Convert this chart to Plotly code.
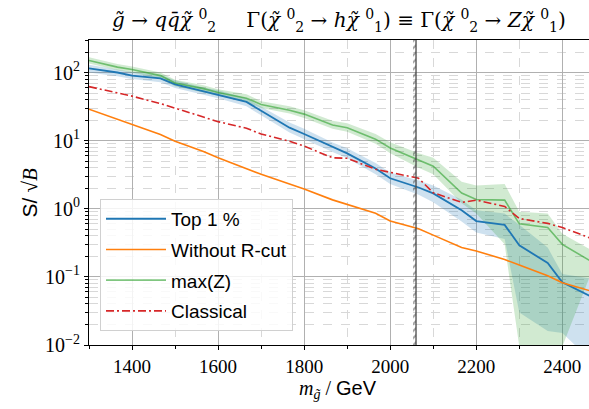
import plotly.graph_objects as go
import math

# ---------------- data ----------------
masses = [1300, 1366, 1400, 1466, 1500, 1566, 1600, 1666, 1700, 1766, 1800, 1866,
          1900, 1966, 2000, 2066, 2100, 2166, 2200, 2266, 2300, 2366, 2400, 2466]

top1 = [115, 100, 90, 82, 67, 53, 48, 37, 27.5, 15.5, 12.5, 8.0,
        6.5, 3.9, 2.8, 2.05, 1.68, 0.95, 0.66, 0.58, 0.29, 0.16, 0.083, 0.052]
top1_lo = [100, 88, 80, 72, 59, 47, 42, 32, 23.5, 13.2, 10.5, 6.8,
           5.5, 3.2, 2.3, 1.6, 1.25, 0.65, 0.45, 0.36, 0.03, 0.016, 0.015, 0.006]
top1_hi = [130, 112, 102, 92, 77, 60, 55, 42, 32, 18.5, 15, 9.4,
           7.7, 4.7, 3.4, 2.6, 2.2, 1.35, 0.95, 0.85, 0.58, 0.27, 0.11, 0.095]

no_rcut = [29, 20.5, 17, 12.3, 9.8, 6.9, 5.6, 3.9, 3.2, 2.3, 1.95, 1.35,
           1.15, 0.86, 0.66, 0.51, 0.41, 0.27, 0.24, 0.18, 0.149, 0.104, 0.082, 0.062]

maxz = [150, 120, 111, 90, 70, 58, 51, 42, 34, 28, 24.5, 17,
        15.5, 10.5, 7.8, 5.1, 4.2, 1.7, 1.37, 1.34, 0.60, 0.53, 0.30, 0.17]
maxz_lo = [135, 108, 100, 81, 63, 52, 46, 37, 30, 25, 21.5, 15,
           13.5, 9, 6.5, 4.0, 3.2, 1.2, 0.85, 0.3, 0.0095, 0.0095, 0.0095, 0.11]
maxz_hi = [168, 133, 123, 100, 78, 65, 57, 48, 38, 32, 28, 19.5,
           18, 12.5, 9.5, 6.5, 5.6, 2.5, 2.2, 2.3, 0.9, 0.85, 0.43, 0.25]

classical = [62, 50, 45, 35, 30, 22, 19, 15.2, 12.5, 9.8, 8.3, 5.6,
             5.5, 3.8, 3.4, 2.8, 1.72, 1.24, 1.34, 1.08, 0.72, 0.61, 0.53, 0.37]

cut_mass = 2060          # hatched vertical marker
x_range = [1300, 2462]
y_range_log = [-2, math.log10(300)]

x_ticks = [1400, 1600, 1800, 2000, 2200, 2400]
y_ticks = [0.01, 0.1, 1, 10, 100]
y_ticktext = ["10<sup>−2</sup>", "10<sup>−1</sup>", "10<sup>0</sup>", "10<sup>1</sup>", "10<sup>2</sup>"]

BLUE = "#1f77b4"
ORANGE = "#ff7f0e"
GREEN_LINE = "rgba(44,160,44,0.6)"
RED = "#d62728"

SERIF = "Liberation Serif, DejaVu Serif, serif"
SANS = "Liberation Sans, Arial, sans-serif"

fig = go.Figure()


def band(lo, hi, color):
    fig.add_trace(go.Scatter(
        x=masses + masses[::-1], y=hi + lo[::-1], fill="toself",
        fillcolor=color, line=dict(width=0), mode="lines",
        hoverinfo="skip", showlegend=False))


band(top1_lo, top1_hi, "rgba(31,119,180,0.22)")
band(maxz_lo, maxz_hi, "rgba(44,160,44,0.22)")

# hatched vertical marker
y_lo, y_hi = 10 ** y_range_log[0], 10 ** y_range_log[1]
hatch_w = 7
fig.add_trace(go.Scatter(
    x=[cut_mass - hatch_w, cut_mass, cut_mass, cut_mass - hatch_w],
    y=[y_lo / 2, y_lo / 2, y_hi * 2, y_hi * 2],
    fill="toself", mode="lines", line=dict(width=0),
    fillcolor="rgba(0,0,0,0)",
    fillpattern=dict(shape="/", fgcolor="#444444", bgcolor="rgba(0,0,0,0)",
                     size=5, solidity=0.4),
    hoverinfo="skip", showlegend=False))
fig.add_shape(type="line", x0=cut_mass, x1=cut_mass, y0=0, y1=1,
              xref="x", yref="paper", line=dict(color="#4a4a4a", width=1.3))

fig.add_trace(go.Scatter(x=masses, y=top1, mode="lines", name="Top 1 %",
                         line=dict(color=BLUE, width=1.8), legendgroup="a"))
fig.add_trace(go.Scatter(x=masses, y=no_rcut, mode="lines", name="Without R-cut",
                         line=dict(color=ORANGE, width=1.6), legendgroup="b"))
fig.add_trace(go.Scatter(x=masses, y=maxz, mode="lines", name="max(Z)",
                         line=dict(color=GREEN_LINE, width=1.6), legendgroup="c"))
fig.add_trace(go.Scatter(x=masses, y=classical, mode="lines", name="Classical",
                         line=dict(color=RED, width=1.6, dash="8px,3px,2px,3px"),
                         legendgroup="d"))

fig.update_layout(
    width=589, height=409,
    margin=dict(l=89, r=0, t=40, b=64),
    paper_bgcolor="white", plot_bgcolor="white",
    showlegend=True,
    legend=dict(x=0.022, y=0.479, xanchor="left", yanchor="top",
                bgcolor="rgba(255,255,255,0.85)", bordercolor="#d0d0d0", borderwidth=1,
                font=dict(family=SANS, size=19, color="black"),
                tracegroupgap=3, itemwidth=60),
    xaxis=dict(
        range=x_range, tickvals=x_ticks, ticks="outside", ticklen=4, tickwidth=1,
        tickcolor="black", showline=True, linecolor="black", linewidth=1.2, mirror=True,
        showgrid=True, gridcolor="#b0b0b0", gridwidth=1,
        tickfont=dict(family=SERIF, size=19, color="black"),
        minor=dict(dtick=100, tick0=1300, ticks="outside", ticklen=2.5, tickcolor="black",
                   showgrid=True, gridcolor="#d8d8d8", griddash="dash", gridwidth=1),
        zeroline=False),
    yaxis=dict(
        type="log", range=y_range_log, tickvals=y_ticks, ticktext=y_ticktext,
        ticks="outside", ticklen=4, tickwidth=1, tickcolor="black",
        showline=True, linecolor="black", linewidth=1.2,
        showgrid=True, gridcolor="#b0b0b0", gridwidth=1,
        tickfont=dict(family=SERIF, size=20, color="black"),
        minor=dict(dtick="D1", ticks="outside", ticklen=2.5, tickcolor="black",
                   showgrid=True, gridcolor="#d8d8d8", griddash="dash", gridwidth=1),
        zeroline=False),
)

fig.add_annotation(
    text="<i>g̃</i> → <i>q</i><i>q̄</i><i>χ̃</i> <sup>0</sup><sub>2</sub>\u2003\u2002"
         "Γ(<i>χ̃</i> <sup>0</sup><sub>2</sub> → <i>h</i><i>χ̃</i> <sup>0</sup><sub>1</sub>) ≡ "
         "Γ(<i>χ̃</i> <sup>0</sup><sub>2</sub> → <i>Z</i><i>χ̃</i> <sup>0</sup><sub>1</sub>)",
    xref="paper", yref="paper", x=0.5, y=1.0, yshift=3, xanchor="center", yanchor="bottom",
    showarrow=False, font=dict(family="DejaVu Serif", size=20, color="black"))

fig.add_annotation(
    text="<i>m</i><sub><i>g̃</i></sub> / <span style='font-family:Liberation Sans'>GeV</span>",
    xref="paper", yref="paper", x=0.497, y=-0.145, xanchor="center", yanchor="middle",
    showarrow=False, font=dict(family=SERIF, size=20, color="black"))

fig.add_annotation(
    text="<span style='font-family:Liberation Sans'>S/</span> √<i>B</i>",
    xref="paper", yref="paper", x=-0.12, y=0.5, xanchor="center", yanchor="middle",
    textangle=-90, showarrow=False, font=dict(family=SERIF, size=21, color="black"))

fig.write_html("out.html")
